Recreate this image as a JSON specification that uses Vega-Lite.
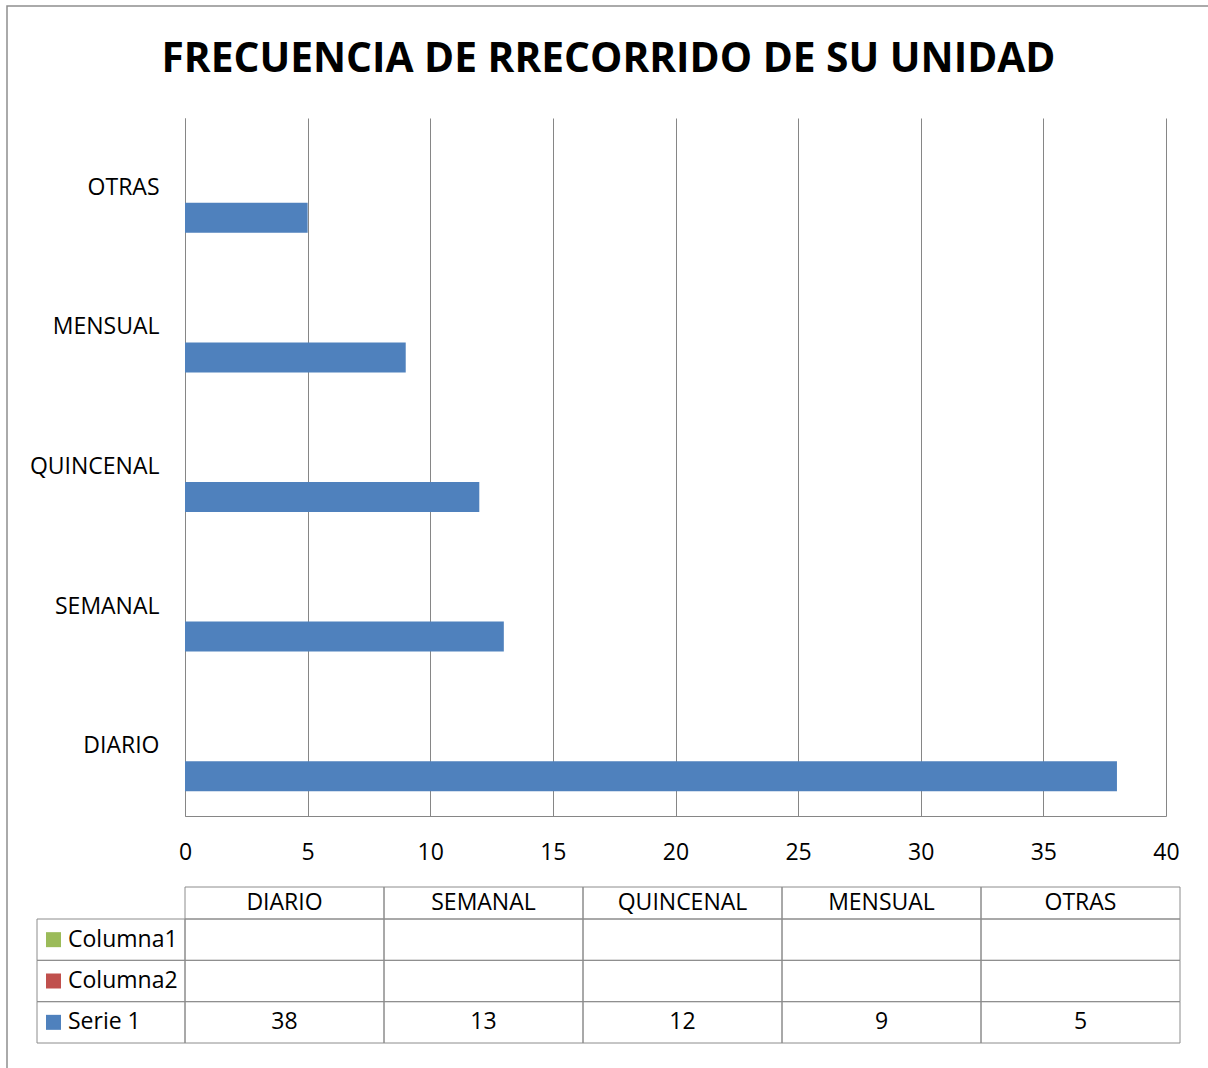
{
  "$schema": "https://vega.github.io/schema/vega-lite/v6.json",
  "width": 981,
  "height": 698,
  "autosize": {"type": "none"},
  "padding": {"left": 185, "top": 118, "right": 42, "bottom": 252},
  "background": "white",
  "title": {
    "text": "FRECUENCIA DE RRECORRIDO DE SU UNIDAD",
    "font": "Open Sans",
    "fontSize": 40.7,
    "fontWeight": "bold",
    "color": "#000000",
    "anchor": "middle",
    "baseline": "alphabetic",
    "offset": -107,
    "dx": -67
  },
  "datasets": {
    "rows": [
      {"category": "DIARIO", "series": "Columna1", "value": null},
      {"category": "DIARIO", "series": "Columna2", "value": null},
      {"category": "DIARIO", "series": "Serie 1", "value": 38},
      {"category": "SEMANAL", "series": "Columna1", "value": null},
      {"category": "SEMANAL", "series": "Columna2", "value": null},
      {"category": "SEMANAL", "series": "Serie 1", "value": 13},
      {"category": "QUINCENAL", "series": "Columna1", "value": null},
      {"category": "QUINCENAL", "series": "Columna2", "value": null},
      {"category": "QUINCENAL", "series": "Serie 1", "value": 12},
      {"category": "MENSUAL", "series": "Columna1", "value": null},
      {"category": "MENSUAL", "series": "Columna2", "value": null},
      {"category": "MENSUAL", "series": "Serie 1", "value": 9},
      {"category": "OTRAS", "series": "Columna1", "value": null},
      {"category": "OTRAS", "series": "Columna2", "value": null},
      {"category": "OTRAS", "series": "Serie 1", "value": 5}
    ]
  },
  "data": {"name": "rows"},
  "resolve": {"scale": {"x": "independent", "y": "independent"}},
  "layer": [
    {
      "transform": [{"filter": "datum.category === 'DIARIO' && datum.series === 'Serie 1'"}],
      "mark": {"type": "rect", "filled": false, "stroke": "#8e8e8e", "strokeWidth": 1.5},
      "encoding": {
        "x": {"datum": "frame", "type": "nominal", "scale": {"type": "band", "domain": ["frame"], "range": [-178, 1100], "paddingInner": 0, "paddingOuter": 0}, "axis": null},
        "y": {"datum": "frame", "type": "nominal", "scale": {"type": "band", "domain": ["frame"], "range": [-112, 1000], "paddingInner": 0, "paddingOuter": 0}, "axis": null}
      }
    },
    {
      "mark": {"type": "bar"},
      "encoding": {
        "y": {
          "field": "category", "type": "nominal",
          "scale": {"domain": ["OTRAS", "MENSUAL", "QUINCENAL", "SEMANAL", "DIARIO"], "paddingInner": 0.355, "paddingOuter": 0.1775},
          "axis": {"title": null, "ticks": false, "labelFontSize": 23, "labelColor": "#000000", "labelPadding": 26, "domainColor": "#868686", "domainWidth": 1}
        },
        "yOffset": {"field": "series", "type": "nominal", "scale": {"domain": ["Columna1", "Columna2", "Serie 1"]}},
        "x": {
          "field": "value", "type": "quantitative",
          "scale": {"domain": [0, 40], "nice": false},
          "axis": {"title": null, "values": [0, 5, 10, 15, 20, 25, 30, 35, 40], "grid": true, "gridColor": "#868686", "gridWidth": 1, "gridOpacity": 1, "ticks": false, "labelFlush": false, "labelOverlap": false, "labelFontSize": 23, "labelColor": "#000000", "labelPadding": 25, "domainColor": "#868686", "domainWidth": 1}
        },
        "color": {"field": "series", "type": "nominal", "scale": {"domain": ["Columna1", "Columna2", "Serie 1"], "range": ["#9BBB59", "#C0504D", "#4F81BD"]}, "legend": null}
      }
    },
    {
      "transform": [{"filter": "datum.series === 'Serie 1'"}],
      "encoding": {
        "x": {"field": "category", "type": "nominal", "scale": {"type": "band", "domain": ["DIARIO", "SEMANAL", "QUINCENAL", "MENSUAL", "OTRAS"], "range": [0, 995], "paddingInner": 0, "paddingOuter": 0}, "axis": null},
        "y": {"datum": "hdr", "type": "nominal", "scale": {"type": "band", "domain": ["hdr"], "range": [769, 801], "paddingInner": 0, "paddingOuter": 0}, "axis": null}
      },
      "layer": [
        {"mark": {"type": "rect", "filled": false, "stroke": "#8c8c8c", "strokeWidth": 1}},
        {"mark": {"type": "text", "font": "Open Sans", "fontSize": 23, "color": "#000000"}, "encoding": {"text": {"field": "category", "type": "nominal"}}}
      ]
    },
    {
      "encoding": {
        "x": {"field": "category", "type": "nominal", "scale": {"type": "band", "domain": ["DIARIO", "SEMANAL", "QUINCENAL", "MENSUAL", "OTRAS"], "range": [0, 995], "paddingInner": 0, "paddingOuter": 0}, "axis": null},
        "y": {"field": "series", "type": "nominal", "scale": {"type": "band", "domain": ["Columna1", "Columna2", "Serie 1"], "range": [801, 925], "paddingInner": 0, "paddingOuter": 0}, "axis": null}
      },
      "layer": [
        {"mark": {"type": "rect", "filled": false, "stroke": "#8c8c8c", "strokeWidth": 1}},
        {
          "transform": [{"filter": "datum.value != null"}],
          "mark": {"type": "text", "font": "Open Sans", "fontSize": 23, "color": "#000000"},
          "encoding": {"text": {"field": "value", "type": "quantitative"}}
        }
      ]
    },
    {
      "transform": [{"filter": "datum.category === 'DIARIO'"}],
      "encoding": {
        "x": {"datum": "lbl", "type": "nominal", "scale": {"type": "band", "domain": ["lbl"], "range": [-148, 0], "paddingInner": 0, "paddingOuter": 0}, "axis": null},
        "y": {"field": "series", "type": "nominal", "scale": {"type": "band", "domain": ["Columna1", "Columna2", "Serie 1"], "range": [801, 925], "paddingInner": 0, "paddingOuter": 0}, "axis": null}
      },
      "layer": [
        {"mark": {"type": "rect", "filled": false, "stroke": "#8c8c8c", "strokeWidth": 1}},
        {"mark": {"type": "text", "font": "Open Sans", "fontSize": 23, "color": "#000000", "align": "left", "dx": -43}, "encoding": {"text": {"field": "series", "type": "nominal"}}}
      ]
    },
    {
      "transform": [{"filter": "datum.category === 'DIARIO'"}],
      "mark": {"type": "square", "size": 225, "filled": true, "opacity": 1},
      "encoding": {
        "x": {"datum": "sq", "type": "nominal", "scale": {"type": "band", "domain": ["sq"], "range": [-139, -124], "paddingInner": 0, "paddingOuter": 0}, "axis": null},
        "y": {"field": "series", "type": "nominal", "scale": {"type": "band", "domain": ["Columna1", "Columna2", "Serie 1"], "range": [801, 925], "paddingInner": 0, "paddingOuter": 0}, "axis": null},
        "color": {"field": "series", "type": "nominal", "scale": {"domain": ["Columna1", "Columna2", "Serie 1"], "range": ["#9BBB59", "#C0504D", "#4F81BD"]}, "legend": null}
      }
    }
  ],
  "config": {
    "view": {"stroke": null},
    "font": "Open Sans",
    "axis": {"labelFont": "Open Sans"}
  }
}
